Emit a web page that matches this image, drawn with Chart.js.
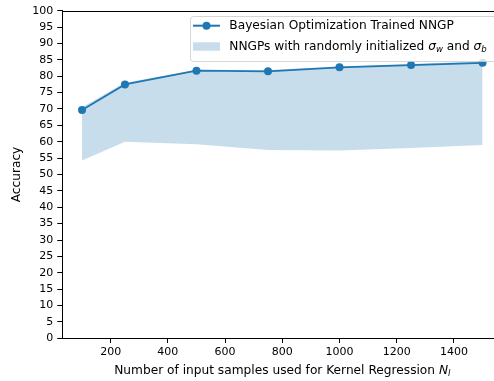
<!DOCTYPE html>
<html>
<head>
<meta charset="utf-8">
<script src="https://cdn.jsdelivr.net/npm/chart.js@4/dist/chart.umd.min.js"></script>
<style>
  html, body { margin: 0; padding: 0; background: #fff; overflow: hidden; }
  #wrap { width: 494px; height: 381px; overflow: hidden; position: relative; }
  canvas { display: block; }
</style>
</head>
<body>
<div id="wrap"><canvas id="c" width="520" height="381"></canvas></div>
<script>
// Training-set sizes used for kernel regression
const samples = [100, 250, 500, 750, 1000, 1250, 1500];
// Accuracy of the NNGP with Bayesian-optimised hyperparameters
const boAccuracy = [69.7, 77.5, 81.7, 81.5, 82.7, 83.4, 84.1];
// Range of accuracies for NNGPs with randomly initialised sigma_w / sigma_b
const randomLow = [54.3, 60.0, 59.2, 57.5, 57.3, 58.1, 59.0];
const randomHigh = [70.5, 78.0, 82.0, 81.9, 83.0, 83.7, 84.6];
// Axis ticks
const xTicks = [200, 400, 600, 800, 1000, 1200, 1400];
const yTicks = [0, 5, 10, 15, 20, 25, 30, 35, 40, 45, 50, 55, 60, 65, 70, 75, 80, 85, 90, 95, 100];

const BLUE = '#1f77b4';
const BAND = 'rgba(31,119,180,0.25)';
const FONT = 'DejaVu Sans';
const TICK_FS = 11;   // tick labels
const LABEL_FS = 12.2; // axis titles and legend

const toPts = (ys) => samples.map((x, i) => ({ x, y: ys[i] }));

// Draws a run of text pieces (plain / italic / subscript) left to right
function drawRich(ctx, pieces, x, y, size) {
  let cx = x;
  for (const p of pieces) {
    const s = p.sub ? size * 0.7 : size;
    ctx.font = (p.italic ? 'italic ' : '') + s + 'px "' + FONT + '"';
    const dy = p.sub ? size * 0.25 : 0;
    ctx.fillText(p.t, cx, y + dy);
    cx += ctx.measureText(p.t).width;
  }
  return cx - x;
}
function measureRich(ctx, pieces, size) {
  let w = 0;
  for (const p of pieces) {
    const s = p.sub ? size * 0.7 : size;
    ctx.font = (p.italic ? 'italic ' : '') + s + 'px "' + FONT + '"';
    w += ctx.measureText(p.t).width;
  }
  return w;
}

const xTitle = [
  { t: 'Number of input samples used for Kernel Regression ' },
  { t: 'N', italic: true },
  { t: 'l', italic: true, sub: true }
];
const legendLabels = [
  [{ t: 'Bayesian Optimization Trained NNGP' }],
  [{ t: 'NNGPs with randomly initialized ' }, { t: 'σ', italic: true }, { t: 'w', italic: true, sub: true },
   { t: ' and ' }, { t: 'σ', italic: true }, { t: 'b', italic: true, sub: true }]
];

const decor = {
  id: 'decor',
  afterDraw(chart) {
    const ctx = chart.ctx;
    const a = chart.chartArea;
    ctx.save();
    // top spine
    ctx.strokeStyle = '#000';
    ctx.lineWidth = 1;
    ctx.beginPath();
    ctx.moveTo(a.left, Math.round(a.top) + 0.5);
    ctx.lineTo(a.right, Math.round(a.top) + 0.5);
    ctx.stroke();

    // x axis title
    ctx.fillStyle = '#000';
    ctx.textBaseline = 'middle';
    const w = measureRich(ctx, xTitle, LABEL_FS);
    drawRich(ctx, xTitle, (a.left + a.right) / 2 - w / 2, 371, LABEL_FS);

    // legend
    const lx = 190.5, ly = 16.5, lw = 330, lh = 45;
    ctx.beginPath();
    ctx.roundRect(lx, ly, lw, lh, 3);
    ctx.fillStyle = 'rgba(255,255,255,0.8)';
    ctx.fill();
    ctx.strokeStyle = 'rgba(204,204,204,0.8)';
    ctx.lineWidth = 1;
    ctx.stroke();

    // entry 1: line with marker
    const y1 = 25.7;
    ctx.strokeStyle = BLUE;
    ctx.lineWidth = 2;
    ctx.beginPath();
    ctx.moveTo(193, y1);
    ctx.lineTo(220, y1);
    ctx.stroke();
    ctx.fillStyle = BLUE;
    ctx.beginPath();
    ctx.arc(206.5, y1, 4, 0, Math.PI * 2);
    ctx.fill();
    ctx.fillStyle = '#000';
    drawRich(ctx, legendLabels[0], 229.3, y1, LABEL_FS);

    // entry 2: band patch
    const y2 = 46.5;
    ctx.fillStyle = BAND;
    ctx.fillRect(193, 42.3, 27, 8.4);
    ctx.fillStyle = '#000';
    drawRich(ctx, legendLabels[1], 229.3, y2, LABEL_FS);
    ctx.restore();
  }
};

new Chart(document.getElementById('c'), {
  type: 'line',
  data: {
    datasets: [
      {
        label: 'Bayesian Optimization Trained NNGP',
        data: toPts(boAccuracy),
        borderColor: BLUE,
        backgroundColor: BLUE,
        borderWidth: 1.8,
        pointRadius: 4,
        pointBorderWidth: 0,
        pointBackgroundColor: BLUE,
        fill: false,
        tension: 0
      },
      {
        label: 'low',
        data: toPts(randomLow),
        borderWidth: 0,
        pointRadius: 0,
        fill: false,
        tension: 0
      },
      {
        label: 'NNGPs with randomly initialized σw and σb',
        data: toPts(randomHigh),
        borderWidth: 0,
        pointRadius: 0,
        backgroundColor: BAND,
        fill: '-1',
        tension: 0
      }
    ]
  },
  options: {
    responsive: false,
    animation: false,
    devicePixelRatio: 1,
    layout: { padding: { left: 0, top: 10.7, right: 17.4, bottom: 0 } },
    plugins: {
      legend: { display: false },
      tooltip: { enabled: false }
    },
    scales: {
      x: {
        type: 'linear',
        min: 30,
        max: 1570,
        afterFit: (s) => { s.height = 42.7; },
        afterBuildTicks: (s) => { s.ticks = xTicks.map(v => ({ value: v })); },
        grid: { display: true, drawOnChartArea: false, drawTicks: true, tickLength: 4.7, tickColor: '#000', tickWidth: 1 },
        border: { display: true, color: '#000', width: 1 },
        ticks: { color: '#000', font: { family: FONT, size: TICK_FS }, padding: 3, maxRotation: 0, autoSkip: false,
                 callback: (v) => String(v) }
      },
      y: {
        min: 0,
        max: 100,
        afterFit: (s) => { s.width = 62; },
        afterBuildTicks: (s) => { s.ticks = yTicks.map(v => ({ value: v })); },
        grid: { display: true, drawOnChartArea: false, drawTicks: true, tickLength: 4.7, tickColor: '#000', tickWidth: 1 },
        border: { display: true, color: '#000', width: 1 },
        ticks: { color: '#000', font: { family: FONT, size: TICK_FS }, padding: 4, autoSkip: false,
                 callback: (v) => String(v) },
        title: { display: true, text: 'Accuracy', color: '#000', font: { family: FONT, size: LABEL_FS }, padding: { top: 10, bottom: 0 } }
      }
    }
  },
  plugins: [decor]
});
</script>
</body>
</html>
